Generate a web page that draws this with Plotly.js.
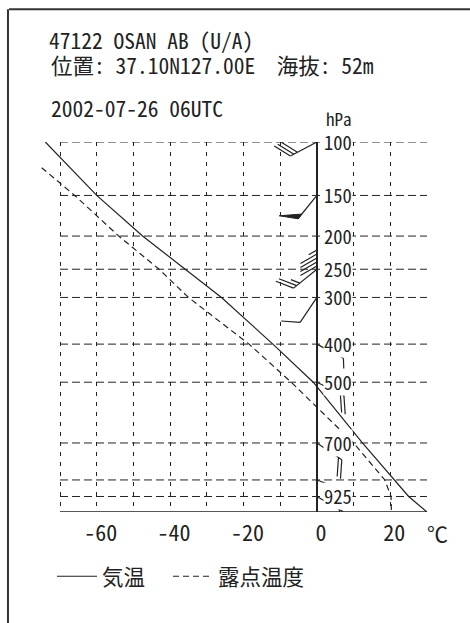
<!DOCTYPE html>
<html>
<head>
<meta charset="utf-8">
<script src="https://cdn.plot.ly/plotly-3.0.1.min.js"></script>
<style>html,body{margin:0;padding:0;background:#fff;}#chart{width:470px;height:623px;}</style>
</head>
<body>
<div id="chart"></div>
<script>
// ---- data ----
const PRESSURE = [100, 150, 200, 250, 300, 400, 500, 700, 850, 925, 1000];          // hPa
const TEMP     = [-74, -60, -47.5, -36, -26, -12, -1, 12.4, 21, 25, 30];              // °C
const DEW_P    = [122, 150, 200, 250, 300, 400, 500, 700, 850, 925, 1000];           // hPa
const DEWPOINT = [-75, -66, -54, -43, -35, -18.5, -7, 10, 18.5, 20.2, 20.3];          // °C
const WIND_DIR = [242, 219, 180, 231, 214, 118, 116, 124, 110, 120, 140];            // deg (from)
const WIND_SPD = [30, 50, 45, 25, 10, 10, 20, 20, 15, 15, 10];                       // kt
const GRID_P   = [100, 150, 200, 250, 300, 400, 500, 700, 850, 925];
const LABEL_P  = [100, 150, 200, 250, 300, 400, 500, 700, 925];
const XTICK_VALS = [-70, -60, -50, -40, -30, -20, -10, 0, 10, 20, 30];
const XTICK_TEXT = ['', '-60', '', '-40', '', '-20', '', '0', '', '20', ''];
const TITLE_1 = '47122 OSAN AB (U/A)';
const TITLE_2 = '位置: 37.10N127.00E  海抜: 52m';
const TITLE_3 = '2002-07-26 06UTC';
const NAME_T = '気温';
const NAME_TD = '露点温度';

// ---- layout geometry ----
const W = 470, H = 623;
const M = {l: 38, r: 43.3, t: 141.7, b: 111.3};
const plotW = W - M.l - M.r, plotH = H - M.t - M.b;
const XR = [-76, 30];
const K = 0.2;                       // pressure axis scale: p^0.2
const tp = p => Math.pow(p, K);
const YR = [tp(1000), tp(100)];      // reversed
const kx = plotW / (XR[1] - XR[0]);  // px per degC
const ky = plotH / (YR[0] - YR[1]);  // px per axis unit
const pxX = px => (px - M.l) / plotW;
const pxY = py => (H - M.b - py) / plotH;

const monoFont = 'Noto Sans Mono CJK JP, DejaVu Sans Mono, Noto Sans CJK JP, monospace';
const ink = '#222';

// ---- wind barbs ----
const bx = [], by = [], fx = [], fy = [];
for (let i = 0; i < PRESSURE.length; i++) {
  const b = WIND_DIR[i] * Math.PI / 180;
  const ux = Math.sin(b), uy = -Math.cos(b);          // screen px (right, down)
  const fb = b + Math.PI / 3;
  const vx = Math.sin(fb), vy = -Math.cos(fb);
  const ox = 0, oy = tp(PRESSURE[i]);
  const L = 30, FL = 19;
  const at = (s, f) => [ox + (s * ux + f * vx) / kx, oy + (s * uy + f * vy) / ky];
  let a = at(0, 0), c = at(L, 0);
  bx.push(a[0], c[0], null); by.push(a[1], c[1], null);
  let s = WIND_SPD[i], pos = L;
  while (s >= 50) {
    const p1 = at(pos, 0), p2 = at(pos, FL), p3 = at(pos - 6, 0);
    fx.push(p1[0], p2[0], p3[0], p1[0], null); fy.push(p1[1], p2[1], p3[1], p1[1], null);
    pos -= 8; s -= 50;
  }
  while (s >= 10) {
    const p1 = at(pos, 0), p2 = at(pos, FL);
    bx.push(p1[0], p2[0], null); by.push(p1[1], p2[1], null);
    pos -= 4; s -= 10;
  }
  if (s >= 5) {
    const p1 = at(pos, 0), p2 = at(pos, FL / 2);
    bx.push(p1[0], p2[0], null); by.push(p1[1], p2[1], null);
  }
}

const traces = [
  {x: TEMP, y: PRESSURE.map(tp), mode: 'lines', name: NAME_T, legendwidth: 61,
   line: {color: ink, width: 1.2}},
  {x: DEWPOINT, y: DEW_P.map(tp), mode: 'lines', name: NAME_TD,
   line: {color: ink, width: 1.2, dash: '6px,4px'}},
  {x: bx, y: by, mode: 'lines', showlegend: false, hoverinfo: 'skip',
   line: {color: ink, width: 1.2}},
  {x: fx, y: fy, mode: 'lines', fill: 'toself', fillcolor: ink, showlegend: false,
   hoverinfo: 'skip', line: {color: ink, width: 1}}
];

const shapes = [];
GRID_P.forEach(p => shapes.push({type: 'line', xref: 'x', yref: 'y', x0: -70, x1: 30,
  y0: tp(p), y1: tp(p), layer: 'below', line: {color: ink, width: 1, dash: '8px,4px'}}));
shapes.push({type: 'line', xref: 'x', yref: 'y', x0: -70, x1: 30, y0: tp(1000), y1: tp(1000),
  line: {color: ink, width: 1.5}});
// outer frame of the figure
shapes.push({type: 'line', xref: 'paper', yref: 'paper', x0: pxX(9), x1: pxX(470), y0: pxY(9), y1: pxY(9),
  line: {color: '#333', width: 2}});
shapes.push({type: 'line', xref: 'paper', yref: 'paper', x0: pxX(8), x1: pxX(8), y0: pxY(9), y1: pxY(623),
  line: {color: '#333', width: 2}});

const annotations = [
  {xref: 'paper', yref: 'paper', x: pxX(49), y: pxY(64), xanchor: 'left', yanchor: 'middle',
   text: TITLE_2, showarrow: false, font: {family: monoFont, size: 21.5, color: ink}},
  {xref: 'paper', yref: 'paper', x: pxX(49), y: pxY(107), xanchor: 'left', yanchor: 'middle',
   text: TITLE_3, showarrow: false, font: {family: monoFont, size: 21.5, color: ink}},
  {xref: 'x', yref: 'paper', x: 0, y: pxY(118), xanchor: 'left', yanchor: 'middle', xshift: 7,
   text: 'hPa', showarrow: false, font: {family: monoFont, size: 17, color: ink}},
  {xref: 'paper', yref: 'paper', x: pxX(437), y: pxY(533), xanchor: 'center', yanchor: 'middle',
   text: '℃', showarrow: false, font: {family: monoFont, size: 21, color: ink}}
];
LABEL_P.forEach(p => annotations.push({xref: 'x', yref: 'y', x: 0, y: tp(p), xanchor: 'left',
  yanchor: 'middle', xshift: 6, text: String(p), showarrow: false, bgcolor: '#fff', borderpad: 0,
  font: {family: monoFont, size: 18.5, color: ink}}));

const layout = {
  width: W, height: H,
  margin: {l: M.l, r: M.r, t: M.t, b: M.b, pad: 0},
  paper_bgcolor: '#fff', plot_bgcolor: '#fff',
  title: {text: TITLE_1, xref: 'container', yref: 'container', x: 49 / W, xanchor: 'left',
          y: 1 - 41 / H, yanchor: 'middle', font: {family: monoFont, size: 21.5, color: ink}},
  showlegend: true,
  legend: {orientation: 'h', x: pxX(52), y: pxY(576), xanchor: 'left', yanchor: 'middle',
           itemwidth: 40,
           font: {family: 'Noto Sans CJK JP', size: 21.5, color: ink}, bgcolor: 'rgba(0,0,0,0)'},
  xaxis: {range: XR, tickmode: 'array', tickvals: XTICK_VALS, ticktext: XTICK_TEXT,
          showgrid: true, gridcolor: ink, gridwidth: 1, griddash: '4px,6px',
          zeroline: true, zerolinecolor: ink, zerolinewidth: 1.5,
          showline: false, ticks: '', ticklabelstandoff: 6, ticklabelshift: 4,
          tickfont: {family: monoFont, size: 22, color: ink}, fixedrange: true},
  yaxis: {range: YR, showgrid: false, zeroline: false, showline: false, showticklabels: false,
          ticks: '', fixedrange: true},
  shapes: shapes,
  annotations: annotations
};

Plotly.newPlot('chart', traces, layout, {staticPlot: true});
</script>
</body>
</html>
